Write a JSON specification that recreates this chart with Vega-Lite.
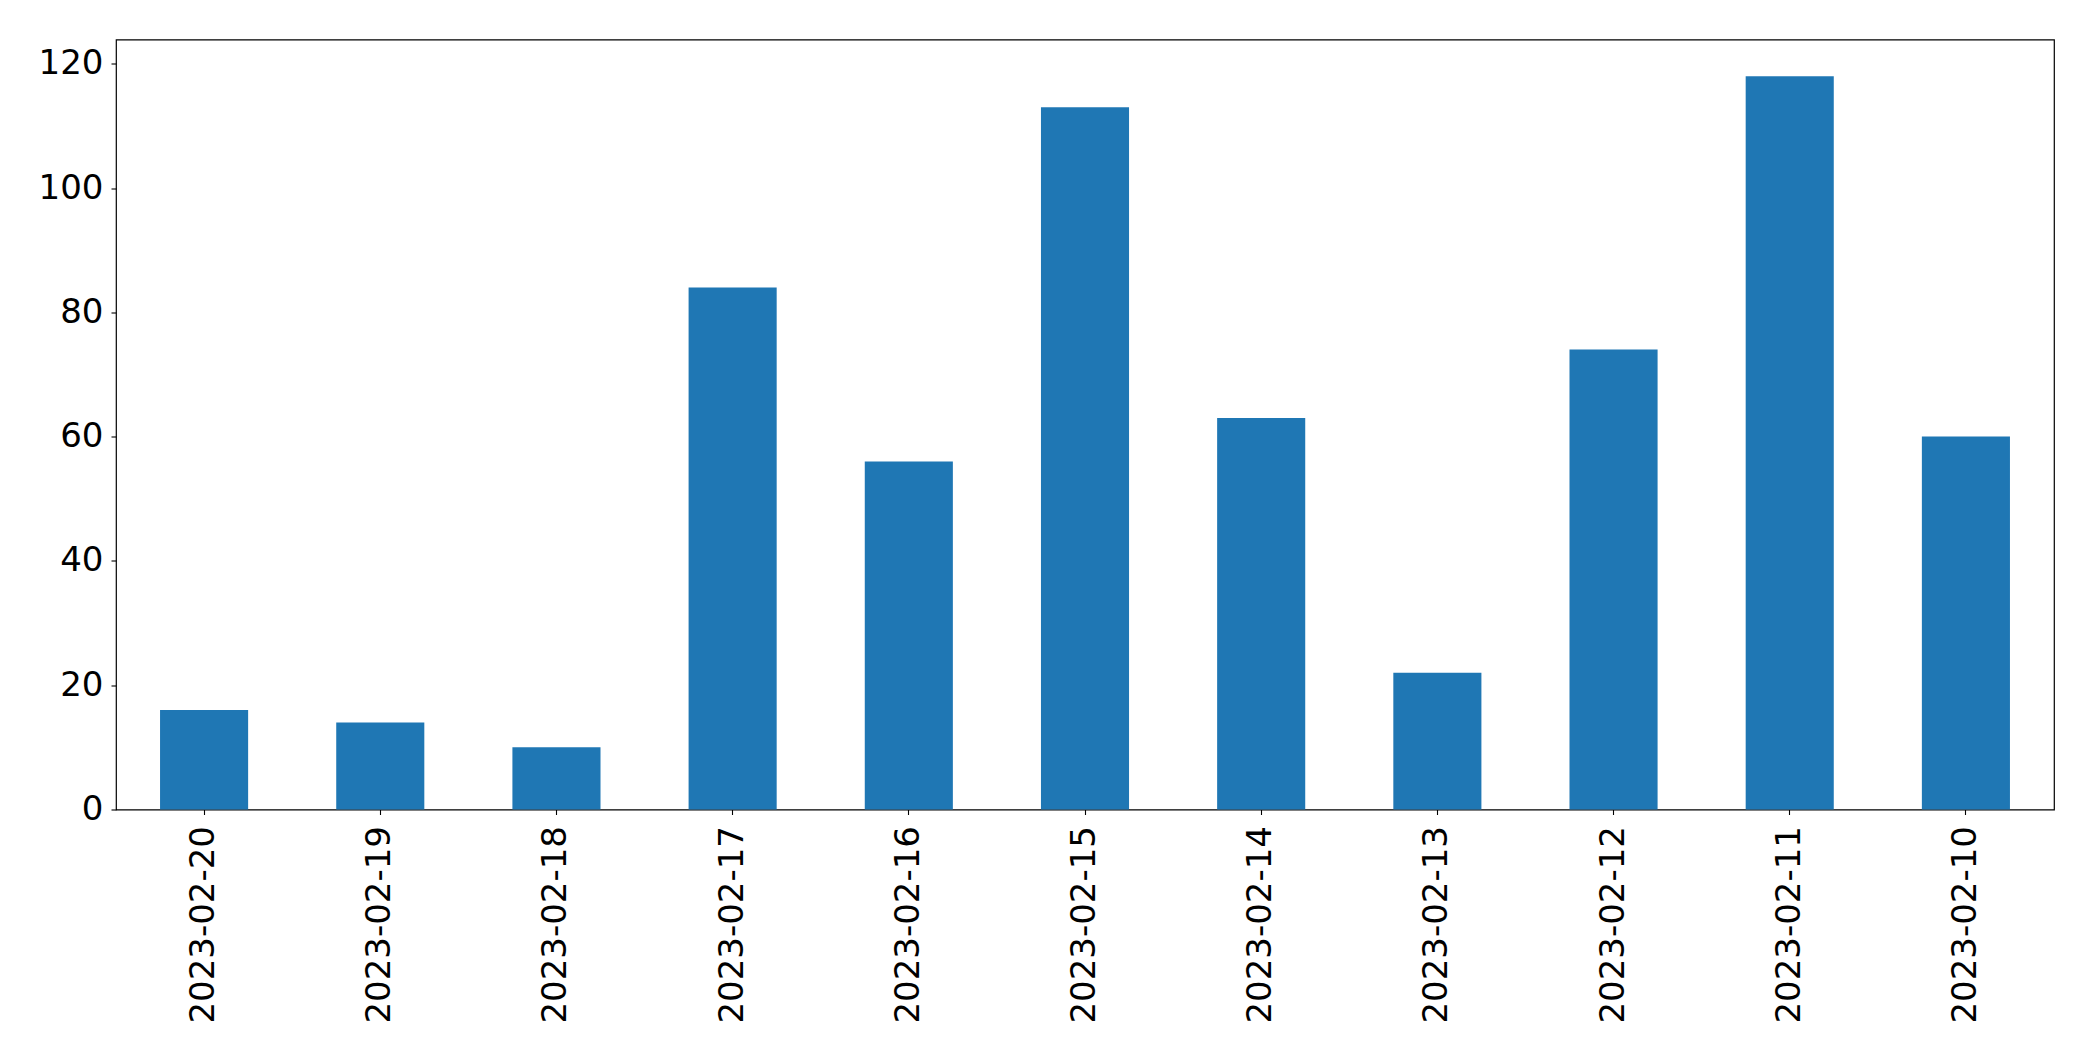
{
  "$schema": "https://vega.github.io/schema/vega-lite/v6.json",
  "width": 1938,
  "height": 770,
  "autosize": "none",
  "padding": {"left": 116, "top": 39.5, "right": 39, "bottom": 252},
  "background": "white",
  "config": {
    "view": {"stroke": "black", "strokeWidth": 1.2},
    "axis": {
      "labelFont": "DejaVu Sans",
      "labelFontSize": 34,
      "labelColor": "black",
      "labelLimit": 0,
      "tickColor": "black",
      "tickWidth": 1.1,
      "tickSize": 5,
      "domain": false,
      "grid": false,
      "title": null
    }
  },
  "data": {
    "values": [
      {"date": "2023-02-20", "count": 16},
      {"date": "2023-02-19", "count": 14},
      {"date": "2023-02-18", "count": 10},
      {"date": "2023-02-17", "count": 84},
      {"date": "2023-02-16", "count": 56},
      {"date": "2023-02-15", "count": 113},
      {"date": "2023-02-14", "count": 63},
      {"date": "2023-02-13", "count": 22},
      {"date": "2023-02-12", "count": 74},
      {"date": "2023-02-11", "count": 118},
      {"date": "2023-02-10", "count": 60}
    ]
  },
  "mark": {"type": "bar", "color": "#1f77b4"},
  "encoding": {
    "x": {
      "field": "date",
      "type": "nominal",
      "sort": null,
      "scale": {"paddingInner": 0.5, "paddingOuter": 0.25},
      "axis": {"labelAngle": 270, "labelPadding": 11}
    },
    "y": {
      "field": "count",
      "type": "quantitative",
      "scale": {"domain": [0, 123.9], "nice": false, "zero": true},
      "axis": {"values": [0, 20, 40, 60, 80, 100, 120], "labelPadding": 8}
    }
  }
}
